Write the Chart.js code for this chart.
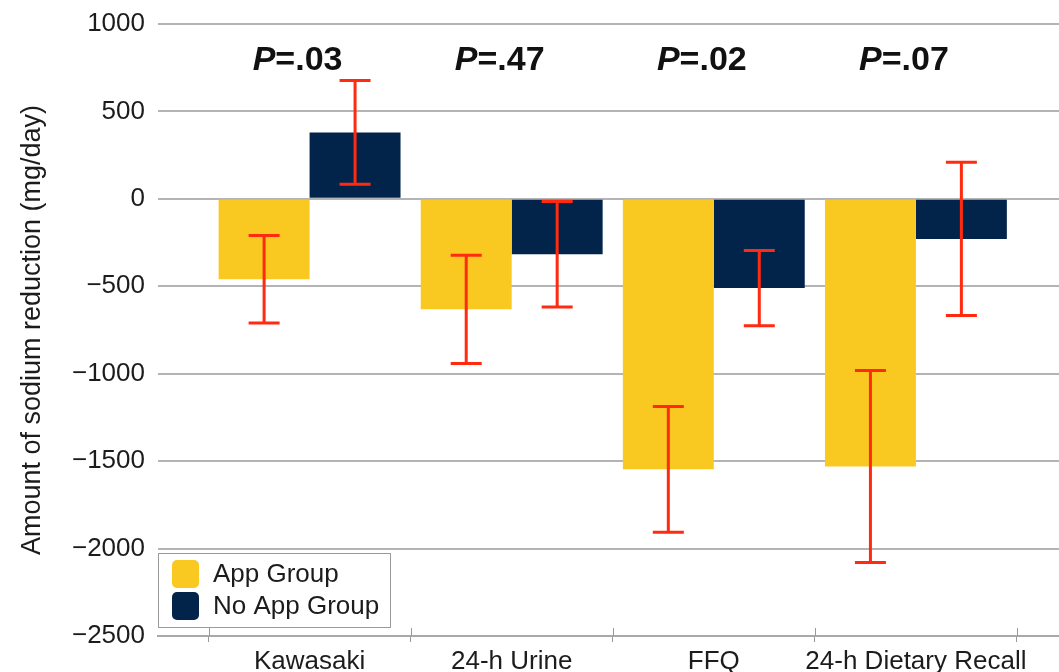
<!DOCTYPE html>
<html>
<head>
<meta charset="utf-8">
<script src="https://cdn.jsdelivr.net/npm/chart.js@4/dist/chart.umd.min.js"></script>
<style>
  html, body { margin: 0; padding: 0; background: #fff; overflow: hidden; }
  #wrap { width: 1059px; height: 672px; position: relative; }
</style>
</head>
<body>
<div id="wrap"><canvas id="c"></canvas></div>
<script>
const categories = ['Kawasaki', '24-h Urine', 'FFQ', '24-h Dietary Recall'];
const appValues = [-460, -632, -1547, -1531];
const appErrors = [250, 310, 359, 549];
const noAppValues = [380, -317, -510, -229];
const noAppErrors = [297, 302, 215, 438];
const pValues = ['.03', '.47', '.02', '.07'];
const yTicks = [1000, 500, 0, -500, -1000, -1500, -2000, -2500];

const FONT = "'Liberation Sans', Arial, sans-serif";
const TEXT = '#1c1c1c';
const YELLOW = '#F9C922';
const NAVY = '#03244A';
const RED = '#FF2A10';

const errorsByDataset = [appErrors, noAppErrors];

const errorBarPlugin = {
  id: 'errorBars',
  afterDatasetsDraw(chart) {
    const ctx = chart.ctx;
    const y = chart.scales.y;
    ctx.save();
    ctx.strokeStyle = RED;
    ctx.lineWidth = 3;
    chart.data.datasets.forEach((ds, di) => {
      const meta = chart.getDatasetMeta(di);
      meta.data.forEach((bar, i) => {
        const v = ds.data[i].y;
        const e = errorsByDataset[di][i];
        const top = y.getPixelForValue(v + e);
        const bot = y.getPixelForValue(v - e);
        const cx = bar.x;
        const hw = 15.5;
        ctx.beginPath();
        ctx.moveTo(cx, top); ctx.lineTo(cx, bot);
        ctx.moveTo(cx - hw, top); ctx.lineTo(cx + hw, top);
        ctx.moveTo(cx - hw, bot); ctx.lineTo(cx + hw, bot);
        ctx.stroke();
      });
    });
    ctx.restore();
  }
};

const annotationPlugin = {
  id: 'annotations',
  afterDraw(chart) {
    const ctx = chart.ctx;
    const x = chart.scales.x;
    const y = chart.scales.y;
    const area = chart.chartArea;
    ctx.save();
    // P values
    ctx.fillStyle = '#111';
    ctx.textBaseline = 'middle';
    pValues.forEach((p, i) => {
      const cx = x.getPixelForValue(i) - 12;
      const cy = y.getPixelForValue(790);
      ctx.font = "italic bold 34px " + FONT;
      const w1 = ctx.measureText('P').width;
      ctx.font = "bold 34px " + FONT;
      const w2 = ctx.measureText('=' + p).width;
      const start = cx - (w1 + w2) / 2;
      ctx.font = "italic bold 34px " + FONT;
      ctx.textAlign = 'left';
      ctx.fillText('P', start, cy);
      ctx.font = "bold 34px " + FONT;
      ctx.fillText('=' + p, start + w1, cy);
    });
    // tick marks extending above the axis, at category boundaries
    ctx.strokeStyle = '#999';
    ctx.lineWidth = 1;
    for (let i = 0; i <= categories.length; i++) {
      const px = Math.round(x.getPixelForValue(i - 0.5)) + 0.5;
      ctx.beginPath();
      ctx.moveTo(px, area.bottom - 8);
      ctx.lineTo(px, area.bottom);
      ctx.stroke();
    }
    // legend box
    const lx = area.left, ly = area.bottom - 83, lw = 232, lh = 74;
    ctx.fillStyle = '#fff';
    ctx.fillRect(lx, ly, lw, lh);
    ctx.strokeStyle = '#9a9a9a';
    ctx.lineWidth = 1;
    ctx.strokeRect(lx + 0.5, ly + 0.5, lw, lh);
    const items = [[chart.data.datasets[0].label, YELLOW], [chart.data.datasets[1].label, NAVY]];
    items.forEach((it, k) => {
      const cy = ly + 21 + k * 32;
      ctx.fillStyle = it[1];
      ctx.beginPath();
      ctx.roundRect(lx + 14, cy - 14, 27, 28, 5);
      ctx.fill();
      ctx.fillStyle = TEXT;
      ctx.font = "26px " + FONT;
      ctx.textAlign = 'left';
      ctx.textBaseline = 'middle';
      ctx.fillText(it[0], lx + 55, cy + 1);
    });
    ctx.restore();
  }
};

new Chart(document.getElementById('c'), {
  type: 'bar',
  data: {
    datasets: [
      {
        label: 'App Group',
        data: appValues.map((v, i) => ({ x: i, y: v })),
        backgroundColor: YELLOW,
        borderWidth: 0,
        categoryPercentage: 0.9,
        barPercentage: 1.0
      },
      {
        label: 'No App Group',
        data: noAppValues.map((v, i) => ({ x: i, y: v })),
        backgroundColor: NAVY,
        borderWidth: 0,
        categoryPercentage: 0.9,
        barPercentage: 1.0
      }
    ]
  },
  options: {
    responsive: true,
    maintainAspectRatio: false,
    animation: false,
    layout: { padding: { top: 24, right: 0, bottom: 0, left: 0 } },
    plugins: { legend: { display: false }, tooltip: { enabled: false } },
    scales: {
      x: {
        type: 'linear',
        offset: false,
        min: -0.75,
        max: 3.708,
        afterBuildTicks(scale) {
          scale.ticks = categories.map((c, i) => ({ value: i }));
        },
        afterFit(scale) { scale.height = 36; scale.paddingLeft = 0; scale.paddingRight = 0; },
        ticks: {
          autoSkip: false,
          maxRotation: 0,
          padding: 4,
          color: TEXT,
          font: { family: FONT, size: 26 },
          callback: (v) => categories[v]
        },
        grid: {
          offset: true,
          drawOnChartArea: false,
          drawTicks: true,
          tickLength: 6,
          color: '#999'
        },
        border: { display: true, color: '#a8a8a8', width: 2 }
      },
      y: {
        min: -2500,
        max: 1000,
        afterBuildTicks(scale) { scale.ticks = yTicks.map(v => ({ value: v })); },
        afterFit(scale) { scale.width = 158; scale.paddingTop = 0; scale.paddingBottom = 0; },
        ticks: {
          padding: 13,
          color: TEXT,
          font: { family: FONT, size: 26 },
          callback: (v) => v < 0 ? '\u2212' + Math.abs(v) : String(v)
        },
        grid: { color: '#b4b4b4', lineWidth: 2, drawTicks: false },
        border: { display: false },
        title: {
          display: true,
          text: 'Amount of sodium reduction (mg/day)',
          color: TEXT,
          font: { family: FONT, size: 27 },
          padding: { top: 16, bottom: 0 }
        }
      }
    }
  },
  plugins: [errorBarPlugin, annotationPlugin]
});
</script>
</body>
</html>
